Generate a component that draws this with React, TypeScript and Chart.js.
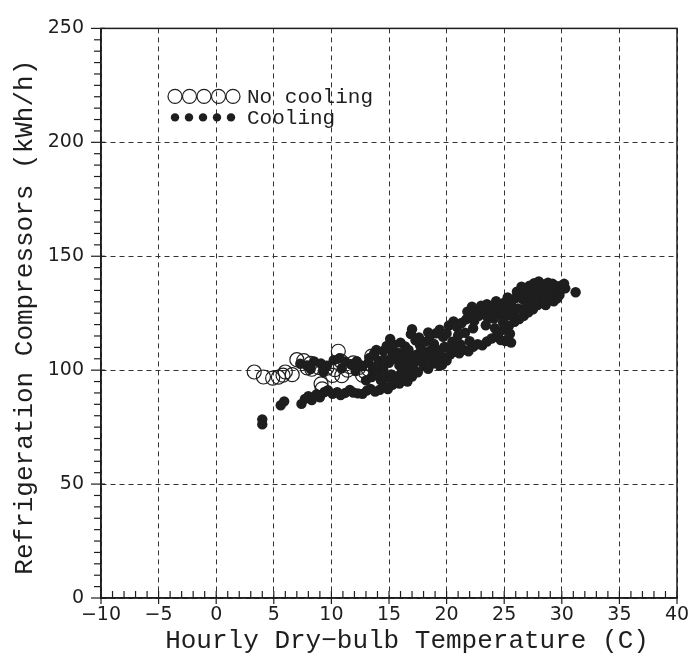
import React, { useEffect, useRef } from "react";
import { Chart, registerables } from "chart.js";
Chart.register(...registerables);

const xTitle = "Hourly Dry\u2212bulb Temperature (C)";
const yTitle = "Refrigeration Compressors (kWh/h)";
const legendLabels = ["No cooling", "Cooling"];
const xRange = [-10, 40];
const yRange = [0, 250];

const noCooling: [number, number][] = [
  [3.3, 99.2], [4.1, 97.0], [4.9, 96.5], [5.4, 96.9], [5.8, 97.8], [6.0, 99.2], [6.6, 98.0],
  [7.0, 104.6], [7.6, 104.2], [7.9, 101.0], [8.2, 103.0], [8.3, 100.4], [8.9, 101.2], [9.1, 94.0],
  [9.2, 91.8], [9.6, 100.9], [10.1, 97.7], [10.3, 100.2], [10.6, 108.3], [10.8, 104.1], [10.9, 97.6],
  [11.4, 100.0], [11.6, 101.5], [11.9, 103.2], [12.4, 101.2], [12.7, 97.8], [12.9, 99.4], [13.2, 100.4],
  [13.5, 106.2], [13.8, 102.5],
];

const coolingLow: [number, number][] = [
  [4.0, 76.2], [4.0, 78.4], [5.6, 84.6], [5.9, 86.3],
  [7.4, 85.2], [7.7, 87.4], [8.0, 88.6], [8.3, 86.9], [8.7, 89.3], [9.0, 88.1], [9.4, 90.4], [9.7, 91.2],
  [10.1, 89.6], [10.5, 90.3], [10.8, 89.1], [11.2, 90.0], [11.6, 91.3], [11.9, 90.2], [12.3, 89.8],
  [12.7, 89.6], [13.1, 91.1],
  [7.3, 102.8], [7.9, 101.9], [8.5, 103.8], [9.1, 102.9], [9.6, 101.7], [10.2, 104.4], [10.7, 105.2],
  [11.2, 103.8], [11.7, 102.6], [12.2, 103.9], [12.7, 101.8], [13.2, 103.2], [9.3, 99.2], [10.9, 100.8],
  [12.1, 99.6], [8.2, 100.5], [13.6, 100.2],
];

const coolingMid: [number, number][] = [
  [13.4, 91.8], [13.8, 90.6], [14.2, 91.4], [14.6, 92.8], [14.9, 91.7], [15.3, 93.6], [15.6, 95.2],
  [15.9, 94.1], [16.3, 96.3], [16.6, 95.0], [17.0, 97.2], [14.3, 95.5], [14.8, 96.8], [15.2, 98.1],
  [15.7, 97.4], [16.1, 99.0], [16.6, 98.3], [17.1, 100.2], [17.5, 99.1], [18.0, 101.8], [18.4, 100.6],
  [18.8, 102.9], [19.2, 104.6], [19.6, 102.3], [20.0, 104.2], [19.4, 101.9],
  [13.3, 105.4], [13.7, 107.2], [14.1, 104.1], [14.5, 108.4], [14.8, 110.6], [15.2, 109.1], [15.4, 111.2],
  [15.8, 107.6], [16.0, 112.1], [16.4, 110.4], [16.7, 108.9], [16.9, 115.8], [17.3, 113.1], [17.7, 110.8],
  [18.1, 112.4], [18.5, 113.6], [18.9, 111.5], [19.1, 116.2], [19.4, 117.8], [19.7, 114.6], [20.0, 116.1],
  [14.0, 101.9], [14.5, 100.4], [15.0, 103.2], [15.5, 105.0], [16.2, 103.6], [16.8, 105.1], [17.4, 106.8],
  [18.2, 107.9], [18.7, 109.2], [19.3, 108.6], [19.8, 110.2], [13.9, 108.9], [15.1, 113.7], [17.0, 118.0],
  [13.0, 95.5], [13.5, 97.0], [14.0, 98.0], [14.6, 104.6], [15.3, 106.5], [15.9, 102.1], [16.5, 101.2],
  [17.2, 103.2], [17.8, 104.3], [18.3, 105.4], [19.0, 106.5], [19.6, 106.0], [20.0, 110.0], [16.2, 106.5],
  [17.6, 114.4], [18.4, 116.6], [17.8, 108.5],
];

const coolingHigh: [number, number][] = [
  [20.3, 106.8], [20.7, 108.1], [21.1, 107.4], [21.5, 108.9], [21.9, 108.3], [22.3, 110.2], [22.7, 111.4],
  [23.1, 110.9], [23.5, 112.6], [23.9, 113.9], [24.3, 114.6], [24.7, 113.2], [25.1, 112.8], [25.6, 112.1],
  [24.6, 116.8], [25.0, 117.9], [25.4, 119.4], [25.9, 121.2], [26.3, 122.4], [26.7, 123.8], [27.1, 125.4],
  [27.5, 126.7], [27.9, 128.6], [28.3, 129.8], [28.7, 131.1], [29.1, 132.3], [29.5, 133.4], [29.9, 135.1],
  [20.2, 119.6], [20.6, 121.4], [20.9, 118.9], [21.3, 120.7], [21.7, 122.3], [22.0, 124.1], [22.4, 121.6],
  [22.8, 123.9], [23.2, 125.2], [23.6, 122.8], [24.0, 124.9], [24.4, 126.3], [24.8, 124.2], [25.2, 127.4],
  [25.6, 129.8], [26.0, 131.6], [26.4, 133.9], [26.8, 135.7], [27.2, 137.1], [27.6, 138.2], [28.0, 138.9],
  [28.4, 137.6], [28.8, 138.4], [29.2, 137.9], [29.6, 136.8], [30.0, 137.2], [30.3, 135.9], [31.2, 134.2],
  [22.2, 127.9], [23.0, 128.3], [23.8, 127.6], [24.6, 128.1], [25.3, 131.9], [26.1, 134.4], [26.6, 131.2],
  [27.0, 129.6], [27.4, 131.8], [27.9, 132.6], [28.4, 133.9], [28.9, 134.8], [29.3, 130.2], [28.6, 128.6],
  [26.2, 127.1], [25.8, 126.0], [21.0, 115.2], [21.6, 116.4], [22.3, 118.4], [23.4, 119.7], [24.1, 122.6],
  [22.0, 112.7], [20.5, 112.5], [21.2, 111.3], [26.8, 126.5], [25.3, 124.0], [27.6, 133.0],
  [27.0, 134.0], [26.5, 136.6], [29.6, 131.5],
  [20.8, 110.4], [24.2, 118.4], [24.9, 121.0], [21.8, 125.7],
  [22.6, 126.0], [23.5, 129.0], [24.3, 130.3], [25.0, 129.6], [25.9, 124.1], [25.5, 116.0], [26.9, 128.0],
  [27.7, 130.5], [28.2, 135.6], [29.0, 136.4], [29.8, 133.0], [30.2, 137.9], [27.8, 136.0],
];

const INK = "#1e1e1e";

const decorPlugin = {
  id: "decor",
  afterDraw(chart: any) {
    const { ctx, chartArea: a, scales } = chart;
    const xs = scales.x;
    const ys = scales.y;
    ctx.save();
    ctx.strokeStyle = INK;
    ctx.lineWidth = 1.5;
    ctx.setLineDash([]);
    ctx.strokeRect(a.left, a.top, a.right - a.left, a.bottom - a.top);
    ctx.lineWidth = 1.2;
    for (let v = xRange[0]; v <= xRange[1]; v += 1) {
      const px = xs.getPixelForValue(v);
      const major = v % 5 === 0;
      ctx.beginPath();
      ctx.moveTo(px, a.bottom + (major ? 6 : 0));
      ctx.lineTo(px, a.bottom - 7);
      ctx.stroke();
    }
    for (let v = yRange[0]; v <= yRange[1]; v += 5) {
      const py = ys.getPixelForValue(v);
      const major = v % 50 === 0;
      ctx.beginPath();
      ctx.moveTo(a.left - (major ? 10 : 7), py);
      ctx.lineTo(a.left + (major ? 4 : 0), py);
      ctx.stroke();
    }
    // legend
    const lx0 = a.left + 74;
    const ly1 = a.top + 68;
    const ly2 = a.top + 89;
    ctx.lineWidth = 1.2;
    for (let i = 0; i < 5; i++) {
      ctx.beginPath();
      ctx.arc(lx0 + i * 14.5, ly1, 7, 0, Math.PI * 2);
      ctx.stroke();
      ctx.beginPath();
      ctx.fillStyle = INK;
      ctx.arc(lx0 + i * 14, ly2, 4.2, 0, Math.PI * 2);
      ctx.fill();
    }
    ctx.fillStyle = INK;
    ctx.font = "21px 'Liberation Mono'";
    ctx.textAlign = "left";
    ctx.textBaseline = "middle";
    ctx.fillText(legendLabels[0], a.left + 146, ly1 + 1);
    ctx.fillText(legendLabels[1], a.left + 146, ly2 + 1);
    // axis titles
    ctx.font = "26px 'Liberation Mono'";
    ctx.textAlign = "center";
    ctx.fillText(xTitle, (a.left + a.right) / 2 + 18, a.bottom + 43);
    ctx.translate(25, (a.top + a.bottom) / 2 + 4);
    ctx.rotate(-Math.PI / 2);
    ctx.fillText(yTitle, 0, 0);
    ctx.restore();
  },
};

export default function App() {
  const ref = useRef<HTMLCanvasElement>(null);
  useEffect(() => {
    document.body.style.margin = "0";
    const canvas = ref.current!;
    const tickFont = { family: "'DejaVu Sans'", size: 19 };
    const chart = new Chart(canvas, {
      type: "scatter",
      data: {
        datasets: [
          {
            label: legendLabels[0],
            data: noCooling.map(([x, y]) => ({ x, y })),
            pointStyle: "circle",
            pointRadius: 7,
            backgroundColor: "rgba(0,0,0,0)",
            borderColor: INK,
            borderWidth: 1.2,
          },
          {
            label: legendLabels[1],
            data: [...coolingLow, ...coolingMid, ...coolingHigh].map(([x, y]) => ({ x, y })),
            pointStyle: "circle",
            pointRadius: 5.2,
            backgroundColor: INK,
            borderWidth: 0,
          },
        ],
      },
      options: {
        animation: false,
        responsive: false,
        events: [],
        layout: { padding: { top: 22, right: 19, left: 0, bottom: 0 } },
        plugins: { legend: { display: false }, tooltip: { enabled: false } },
        scales: {
          x: {
            type: "linear",
            min: xRange[0],
            max: xRange[1],
            ticks: {
              stepSize: 5,
              font: tickFont,
              color: INK,
              padding: 6,
              maxRotation: 0,
              callback: (v: any) => String(v).replace("-", "\u2212"),
            },
            grid: { color: "#333", lineWidth: 1, drawTicks: false },
            border: { display: true, color: INK, width: 1.5, dash: [5, 4] },
            afterFit: (s: any) => {
              s.height = 64;
            },
          },
          y: {
            type: "linear",
            min: yRange[0],
            max: yRange[1],
            ticks: { stepSize: 50, font: tickFont, color: INK, padding: 17 },
            grid: { color: "#333", lineWidth: 1, drawTicks: false },
            border: { display: true, color: INK, width: 1.5, dash: [5, 4] },
            afterFit: (s: any) => {
              s.width = 101;
            },
          },
        },
      },
      plugins: [decorPlugin],
    });
    return () => chart.destroy();
  }, []);
  return (
    <div style={{ width: 696, height: 662, background: "#fff" }}>
      <canvas ref={ref} width={696} height={662} style={{ display: "block" }} />
    </div>
  );
}
